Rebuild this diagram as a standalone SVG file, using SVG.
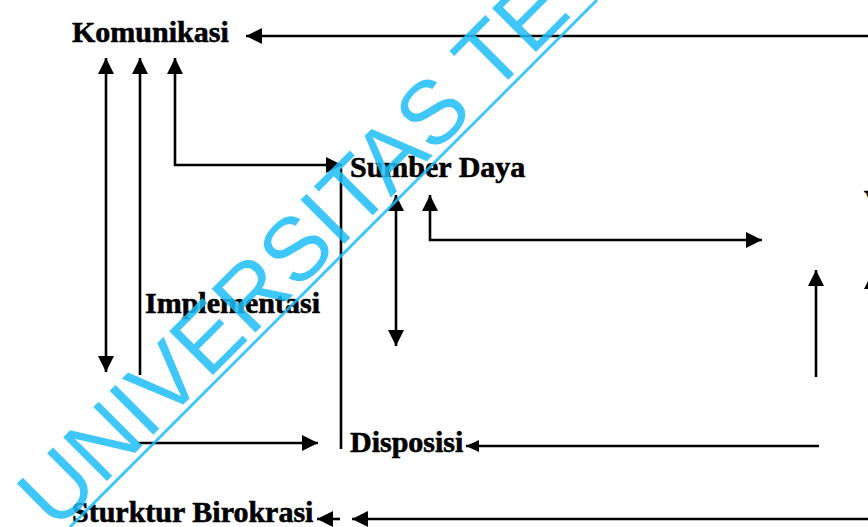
<svg xmlns="http://www.w3.org/2000/svg" width="868" height="527" viewBox="0 0 868 527">
<style>
.lbl{font-family:"Liberation Serif","Times New Roman",serif;font-weight:bold;font-size:30px;fill:#000;stroke:#000;stroke-width:0.6}
.ln{fill:none;stroke:#000;stroke-width:2.6}
.wm{font-family:"Liberation Sans",Arial,sans-serif;font-size:90px;fill:#1fbef9}
</style>
<defs>
<marker id="ah" markerUnits="userSpaceOnUse" markerWidth="17" markerHeight="16" refX="16" refY="8" orient="auto-start-reverse" viewBox="0 0 17 16">
<path d="M0,0 L16,8 L0,16 z" fill="#000"/>
</marker>
<marker id="ahs" markerUnits="userSpaceOnUse" markerWidth="14" markerHeight="12" refX="13" refY="6" orient="auto-start-reverse" viewBox="0 0 14 12">
<path d="M0,0 L13,6 L0,12 z" fill="#000"/>
</marker>
</defs>
<rect width="868" height="527" fill="#fff"/>
<g id="connectors">
<path class="ln" d="M870,36 L246,36" marker-end="url(#ah)"/>
<path class="ln" d="M106,58 L106,372" marker-start="url(#ah)" marker-end="url(#ah)"/>
<path class="ln" d="M140,375 L140,58" marker-end="url(#ah)"/>
<path class="ln" d="M175,58 L175,165 L342,165" marker-start="url(#ah)" marker-end="url(#ah)"/>
<path class="ln" d="M341,168 L341,449"/>
<path class="ln" d="M396,195 L396,346" marker-start="url(#ah)" marker-end="url(#ah)"/>
<path class="ln" d="M430,195 L430,240 L762,240" marker-start="url(#ah)" marker-end="url(#ah)"/>
<path class="ln" d="M816,377 L816,270" marker-end="url(#ah)"/>
<path class="ln" d="M872,377 L872,273" marker-end="url(#ah)"/>
<path class="ln" d="M819,446 L466,446" marker-end="url(#ahs)"/>
<path class="ln" d="M138,443 L318,443" marker-end="url(#ah)"/>
<path class="ln" d="M340,519 L317,519" marker-end="url(#ah)"/>
<path class="ln" d="M870,519 L352,519" marker-end="url(#ah)"/>
</g>
<g id="komunikasi"><text class="lbl" x="72" y="42">Komunikasi</text></g>
<g id="sumber-daya"><text class="lbl" x="350" y="177">Sumber Daya</text></g>
<g id="implementasi"><text class="lbl" x="145" y="313">Implementasi</text></g>
<g id="disposisi"><text class="lbl" x="350" y="452">Disposisi</text></g>
<g id="struktur-birokrasi"><text class="lbl" x="72" y="522">Sturktur Birokrasi</text></g>
<g id="right-node"><text class="lbl" x="864" y="210">V</text></g>
<g id="watermark" opacity="0.85">
<text class="wm" transform="translate(55.7,532.3) rotate(-45)">UNIVERSITAS TE</text>
<line x1="70" y1="527" x2="597" y2="0" stroke="#1fbef9" stroke-width="3"/>
</g>
</svg>
